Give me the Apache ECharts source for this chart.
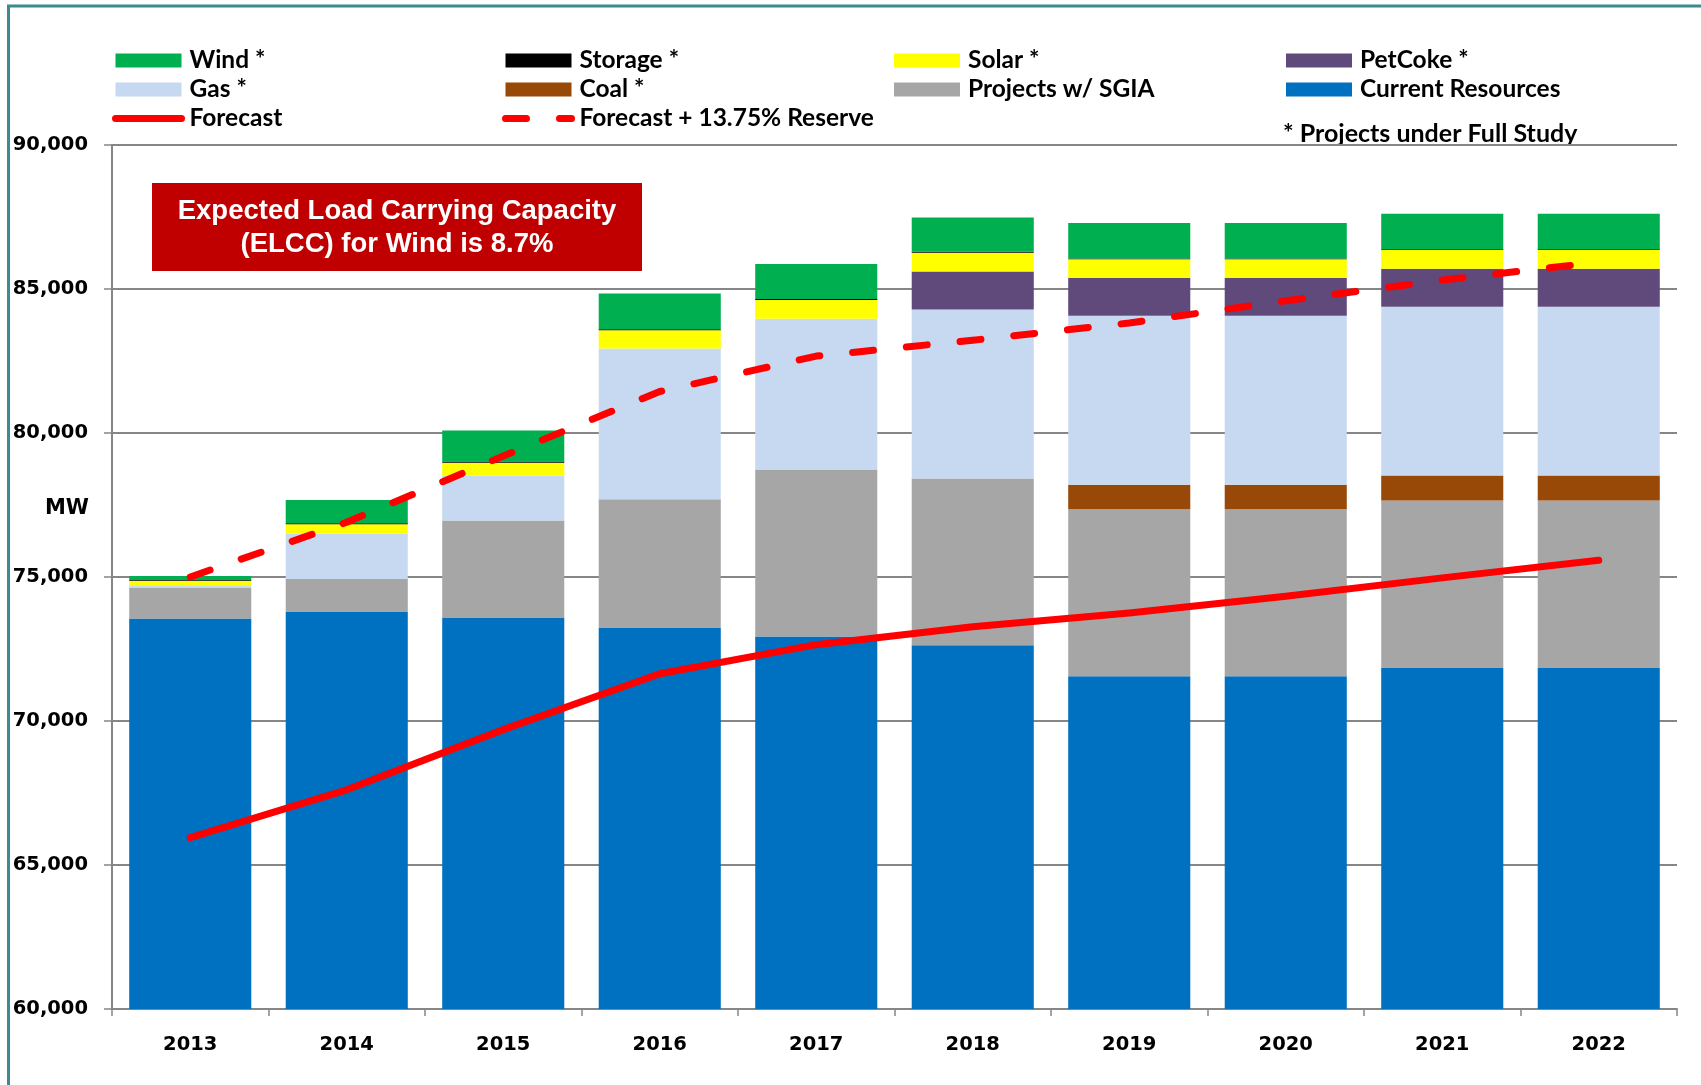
<!DOCTYPE html>
<html>
<head>
<meta charset="utf-8">
<script src="https://cdn.jsdelivr.net/npm/echarts@6/dist/echarts.min.js"></script>
<style>
  html, body { margin: 0; padding: 0; background: #fff; }
  #chart { width: 1701px; height: 1085px; }
</style>
</head>
<body>
<div id="chart"></div>
<script>
// values (MW)
var years = ['2013', '2014', '2015', '2016', '2017', '2018', '2019', '2020', '2021', '2022'];
var currentResources = [73560, 73800, 73590, 73250, 72930, 72630, 71550, 71550, 71860, 71860];
var projectsSGIA = [1060, 1130, 3370, 4450, 5800, 5790, 5800, 5800, 5800, 5800];
var coal = [0, 0, 0, 0, 0, 0, 850, 850, 860, 860];
var gas = [90, 1580, 1560, 5230, 5240, 5870, 5870, 5870, 5860, 5860];
var petCoke = [0, 0, 0, 0, 0, 1320, 1310, 1310, 1320, 1320];
var solar = [160, 325, 450, 640, 650, 650, 650, 650, 650, 650];
var storage = [30, 30, 40, 30, 30, 30, 30, 30, 30, 30];
var wind = [135, 810, 1080, 1240, 1220, 1190, 1230, 1230, 1235, 1235];
var forecast = [65950, 67610, 69700, 71640, 72650, 73270, 73750, 74330, 74970, 75580];
var forecastReserve = [75000, 76900, 79200, 81440, 82670, 83220, 83820, 84590, 85310, 85930];

var chart = echarts.init(document.getElementById('chart'), null, { renderer: 'canvas' });

function bar(name, data, color) {
  return {
    name: name,
    type: 'bar',
    stack: 'cap',
    data: data,
    barCategoryGap: '22%',
    itemStyle: { color: color },
    emphasis: { disabled: true }
  };
}

var legendText = {
  fontFamily: 'Lato',
  fontWeight: 'bold',
  fontSize: 24.5,
  lineHeight: 29,
  color: '#000',
  padding: [0, 0, 0, 3]
};

function legendCol(x, items) {
  return {
    orient: 'vertical',
    left: x,
    top: 46,
    padding: 0,
    itemGap: 0,
    itemWidth: 66,
    itemHeight: 14,
    selectedMode: false,
    textStyle: legendText,
    data: items
  };
}

// line legend: hide the default circle marker, keep a thick red line
var lineIcon = { width: 7 };
var noMarker = { color: 'rgba(0,0,0,0)', borderWidth: 0, opacity: 0 };

var option = {
  animation: false,
  backgroundColor: '#fff',
  grid: { left: 112, right: 24, top: 145, bottom: 76 },
  legend: [
    legendCol(112, [
      { name: 'Wind *', icon: 'rect' },
      { name: 'Gas *', icon: 'rect' },
      { name: 'Forecast', lineStyle: lineIcon, itemStyle: noMarker }
    ]),
    legendCol(502, [
      { name: 'Storage *', icon: 'rect' },
      { name: 'Coal *', icon: 'rect' },
      { name: 'Forecast + 13.75% Reserve', lineStyle: lineIcon, itemStyle: noMarker }
    ]),
    legendCol(894, [
      { name: 'Solar *', icon: 'rect' },
      { name: 'Projects w/ SGIA', icon: 'rect' }
    ]),
    legendCol(1286, [
      { name: 'PetCoke *', icon: 'rect' },
      { name: 'Current Resources', icon: 'rect' }
    ])
  ],
  xAxis: {
    type: 'category',
    data: years,
    axisLine: { lineStyle: { color: '#868686', width: 2 } },
    axisTick: { show: true, length: 7, lineStyle: { color: '#868686', width: 1.5 } },
    axisLabel: {
      margin: 26,
      color: '#000',
      fontFamily: 'DejaVu Sans',
      fontWeight: 'bold',
      fontSize: 19.5
    }
  },
  yAxis: {
    type: 'value',
    min: 60000,
    max: 90000,
    interval: 5000,
    axisLine: { show: true, lineStyle: { color: '#868686', width: 2 } },
    axisTick: { show: true, length: 8, lineStyle: { color: '#868686', width: 1.5 } },
    splitLine: { lineStyle: { color: '#868686', width: 2 } },
    axisLabel: {
      margin: 24,
      color: '#000',
      fontFamily: 'DejaVu Sans',
      fontWeight: 'bold',
      fontSize: 19.5,
      formatter: function (v) { return echarts.format.addCommas(v); }
    }
  },
  series: [
    bar('Current Resources', currentResources, '#0070C0'),
    bar('Projects w/ SGIA', projectsSGIA, '#A6A6A6'),
    bar('Coal *', coal, '#984807'),
    bar('Gas *', gas, '#C6D9F1'),
    bar('PetCoke *', petCoke, '#604A7B'),
    bar('Solar *', solar, '#FFFF00'),
    bar('Storage *', storage, '#000000'),
    bar('Wind *', wind, '#00B050'),
    {
      name: 'Forecast',
      type: 'line',
      data: forecast,
      symbol: 'none',
      z: 5,
      lineStyle: { color: '#FF0000', width: 7, cap: 'round', join: 'round' },
      itemStyle: { color: '#FF0000' }
    },
    {
      name: 'Forecast + 13.75% Reserve',
      type: 'line',
      data: forecastReserve,
      symbol: 'none',
      z: 5,
      lineStyle: { color: '#FF0000', width: 7, type: [21, 33], cap: 'round', join: 'round' },
      itemStyle: { color: '#FF0000' }
    }
  ],
  graphic: [
    // teal frame
    { type: 'line', shape: { x1: 8.5, y1: 6, x2: 8.5, y2: 1085 }, style: { stroke: '#3B8B90', lineWidth: 3 } },
    { type: 'line', shape: { x1: 7, y1: 6, x2: 1701, y2: 6 }, style: { stroke: '#3B8B90', lineWidth: 3 } },
    // annotation box
    {
      type: 'rect',
      shape: { x: 152, y: 183, width: 490, height: 88 },
      style: { fill: '#C00000' },
      z: 10
    },
    {
      type: 'text',
      x: 397, y: 211, z: 11,
      style: {
        text: 'Expected Load Carrying Capacity',
        fill: '#fff',
        fontFamily: 'Liberation Sans',
        fontWeight: 'bold',
        fontSize: 27.5,
        align: 'center',
        verticalAlign: 'middle'
      }
    },
    {
      type: 'text',
      x: 397, y: 244, z: 11,
      style: {
        text: '(ELCC) for Wind is 8.7%',
        fill: '#fff',
        fontFamily: 'Liberation Sans',
        fontWeight: 'bold',
        fontSize: 27.5,
        align: 'center',
        verticalAlign: 'middle'
      }
    },
    {
      type: 'text',
      x: 89, y: 509,
      style: {
        text: 'MW',
        fill: '#000',
        fontFamily: 'DejaVu Sans',
        fontWeight: 'bold',
        fontSize: 21,
        align: 'right',
        verticalAlign: 'middle'
      }
    },
    {
      type: 'text',
      x: 1283, y: 134,
      style: {
        text: '* Projects under Full Study',
        fill: '#000',
        fontFamily: 'Lato',
        fontWeight: 'bold',
        fontSize: 25,
        align: 'left',
        verticalAlign: 'middle'
      }
    }
  ]
};

chart.setOption(option);
</script>
</body>
</html>
